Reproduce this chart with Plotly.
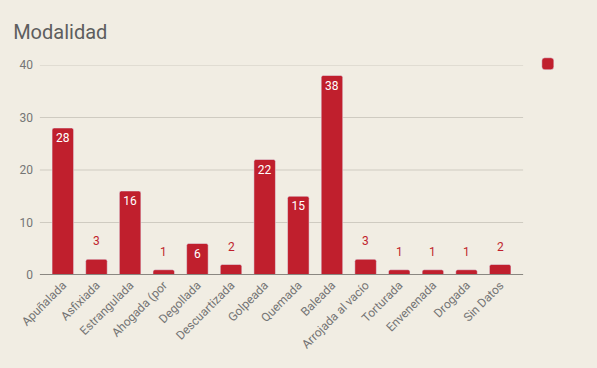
import plotly.graph_objects as go

categories = ["Apuñalada", "Asfixiada", "Estrangulada", "Ahogada (por", "Degollada",
              "Descuartizada", "Golpeada", "Quemada", "Baleada", "Arrojada al vacío",
              "Torturada", "Envenenada", "Drogada", "Sin Datos"]
values = [28, 3, 16, 1, 6, 2, 22, 15, 38, 3, 1, 1, 1, 2]
y_ticks = [0, 10, 20, 30, 40]

RED = "#c01f2d"
BG = "#f1ede3"
GRAY = "#757575"

inside_text = [str(v) if v >= 6 else "" for v in values]

fig = go.Figure(go.Bar(
    x=categories, y=values, name=" ",
    marker=dict(color=RED),
    text=inside_text,
    textposition="inside",
    insidetextanchor="end",
    insidetextfont=dict(color="white", size=12, family="Roboto"),
    textangle=0,
    cliponaxis=False,
    showlegend=True,
))

for c, v in zip(categories, values):
    if v < 6:
        fig.add_annotation(x=c, y=v, text=str(v), showarrow=False, yshift=18,
                           font=dict(color=RED, size=12, family="Roboto"))

# gridlines extending slightly beyond the plot area (as in the reference)
for t in y_ticks:
    fig.add_shape(type="line", xref="paper", yref="y", x0=-0.013, x1=1.013, y0=t, y1=t,
                  line=dict(color="#8a8781" if t == 0 else "#cfcbc1", width=2 if t == 0 else 1),
                  layer="below" if t != 0 else "above")

fig.update_layout(
    width=597, height=368,
    paper_bgcolor=BG, plot_bgcolor=BG,
    margin=dict(l=46, r=80, t=65, b=93),
    bargap=0.36,
    barcornerradius=2,
    font=dict(family="Roboto", color=GRAY, size=12),
    title=dict(text="Modalidad", x=0.022, xanchor="left", y=0.913, yanchor="middle",
               font=dict(size=20, color="#5e5e5e", family="Roboto")),
    legend=dict(x=1.023, y=1.075, xanchor="left", yanchor="top",
                bgcolor="rgba(0,0,0,0)", font=dict(size=11)),
)
fig.update_xaxes(tickangle=-45, showgrid=False, ticks="", tickfont=dict(size=12, color=GRAY),
                 showline=False)
fig.update_yaxes(range=[0, 40], tickvals=y_ticks, showgrid=False, zeroline=False, ticks="",
                 tickfont=dict(size=12, color=GRAY), ticklabelstandoff=12)

fig.write_html("out.html", config={"displayModeBar": False},
               post_script="document.body.style.margin='0';")
